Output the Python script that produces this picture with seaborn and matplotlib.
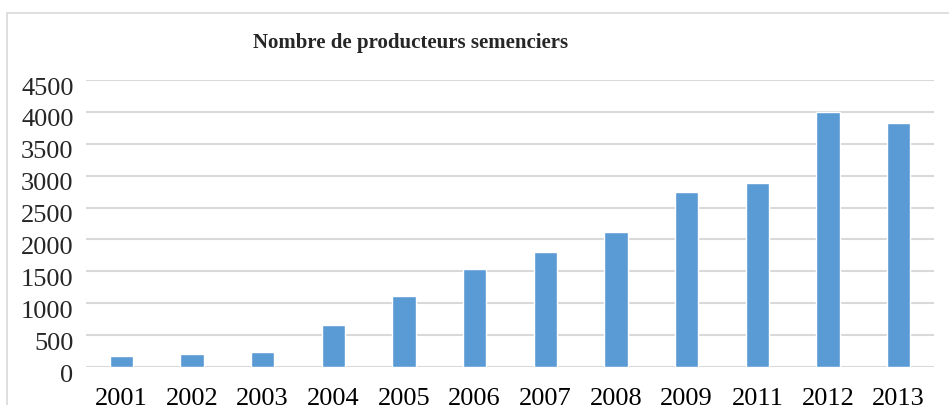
import pandas as pd
import numpy as np
import matplotlib
matplotlib.use("Agg")
import matplotlib.pyplot as plt
import matplotlib.transforms as mtransforms
import seaborn as sns
from matplotlib.patches import Rectangle

annees = ['2001', '2002', '2003', '2004', '2005', '2006', '2007', '2008', '2009', '2011', '2012', '2013']
producteurs = [180, 210, 240, 660, 1120, 1540, 1800, 2120, 2750, 2890, 4000, 3820]
yticks = [0, 500, 1000, 1500, 2000, 2500, 3000, 3500, 4000, 4500]

df = pd.DataFrame({'annee': annees, 'producteurs': producteurs})

sns.set_theme(style='white')
plt.rcParams['font.family'] = ['Liberation Serif', 'DejaVu Serif']

fig = plt.figure(figsize=(9.49, 4.05), dpi=100)
ax = fig.add_axes([86 / 949, 1 - 367 / 405, (934 - 86) / 949, (367 - 80) / 405])

# cadre gris autour du graphique
fig.patches.append(Rectangle((7 / 949, -0.1), 1.2, 1 - 13 / 405 + 0.1, transform=fig.transFigure,
                             fill=False, edgecolor='#D9D9D9', linewidth=1.2))

sns.barplot(data=df, x='annee', y='producteurs', color='#5B9BD5', width=0.33,
            saturation=1, ax=ax, zorder=3)

ax.set_ylim(0, 4500)
ax.set_xlim(-0.5, len(annees) - 0.5)
ax.set_yticks(yticks)
ax.set_yticklabels([str(v) for v in yticks], fontsize=19)
ax.tick_params(axis='x', labelsize=19, length=0, pad=15)
ax.tick_params(axis='y', length=0, pad=9)
for lab in ax.get_xticklabels():
    lab.set_color('#000000')
for v in yticks:
    ax.axhline(v, color='#D9D9D9', linewidth=1.5, zorder=1)
for s in ax.spines.values():
    s.set_visible(False)
ax.set_xlabel('')
ax.set_ylabel('')

# les étiquettes de l'axe y sont un peu décalées vers le bas
offset = mtransforms.ScaledTranslation(0, -6 / 100, fig.dpi_scale_trans)
for lab in ax.get_yticklabels():
    lab.set_transform(lab.get_transform() + offset)

fig.text(411 / 949, 1 - 43 / 405, 'Nombre de producteurs semenciers', ha='center', va='center',
         fontsize=15, fontweight='bold')

plt.savefig('out.png', dpi=100)
